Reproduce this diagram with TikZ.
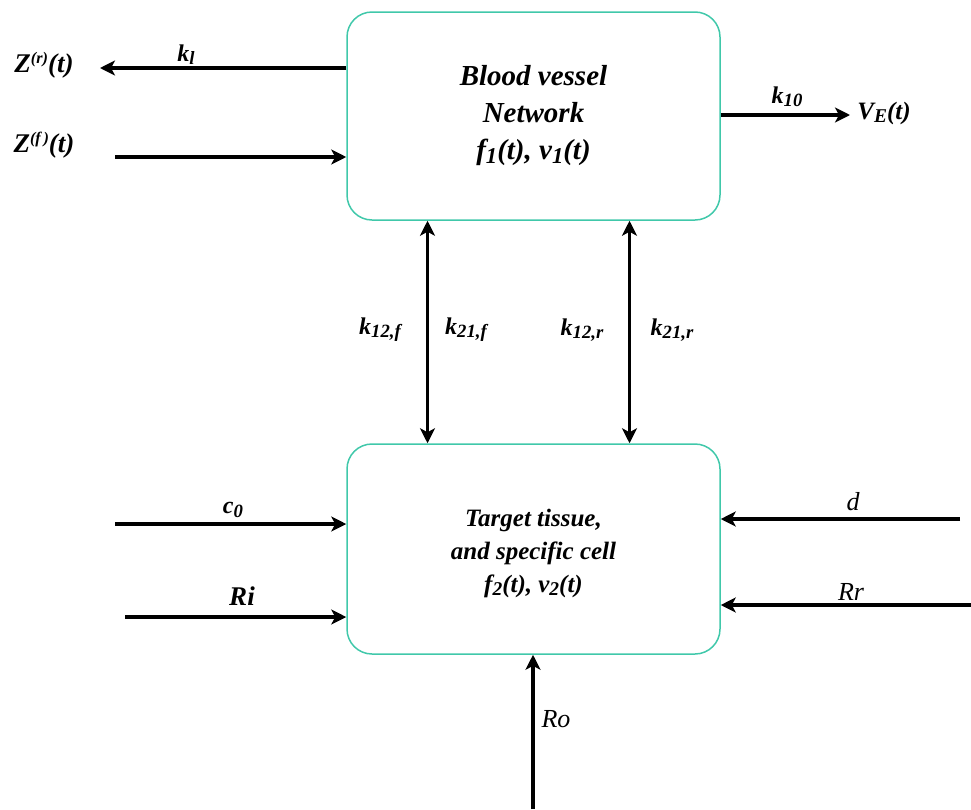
\documentclass[tikz,border=0pt]{standalone}
\usepackage{fontspec}
\usepackage{graphicx}
\setmainfont{Liberation Serif}
\usetikzlibrary{arrows.meta}
\definecolor{tealbox}{RGB}{64,200,170}
\newcommand\lowr[1]{\raisebox{-0.3ex}{\scalebox{0.78}{#1}}}
\newcommand\upr[1]{\raisebox{0.75ex}{\scalebox{0.6}{#1}}}
\tikzset{
  box/.style={draw=tealbox,line width=1.5pt,rounded corners=25pt,minimum width=373pt,minimum height=208pt,align=center,inner sep=0pt},
  arr/.style={line width=3.2pt,-{Stealth[length=15pt,width=15pt,inset=4pt]}},
  dbl/.style={line width=3.2pt,{Stealth[length=15pt,width=15pt,inset=4pt]}-{Stealth[length=15pt,width=15pt,inset=4pt]}},
  lab/.style={font=\fontsize{24}{26}\selectfont\bfseries\itshape,inner sep=0pt},
  labr/.style={font=\fontsize{26}{28}\selectfont\itshape,inner sep=0pt}
}
\begin{document}
\begin{tikzpicture}[x=1pt,y=-1pt]
\useasboundingbox (0,0) rectangle (971,809);
% boxes
\node[box,font=\fontsize{29}{37}\selectfont\bfseries\itshape] (top) at (533.5,116) {Blood vessel\\Network\\f\lowr{1}(t), v\lowr{1}(t)};
\node[box,minimum height=210pt] (bot) at (533.5,549) {};
\node[font=\fontsize{25}{33}\selectfont\bfseries\itshape,align=center,inner sep=0pt] (bottxt) at (533.5,553) {Target tissue,\\and specific cell\\f\lowr{2}(t), v\lowr{2}(t)};
% free ends
\coordinate (zr) at (100,68);
\coordinate (zf) at (115,157);
\coordinate (ve) at (850,115);
\coordinate (c0s) at (115,524);
\coordinate (ris) at (125,617);
\coordinate (ds) at (960,519);
\coordinate (rrs) at (971,605);
\coordinate (ros) at (533,809);
% connectors
\draw[arr] (top.west |- zr) -- (zr);
\draw[arr] (zf) -- (top.west |- zf);
\draw[arr] (top.east |- ve) -- (ve);
\draw[dbl] ([xshift=-106pt]top.south) -- ([xshift=-106pt]bot.north);
\draw[dbl] ([xshift=96pt]top.south) -- ([xshift=96pt]bot.north);
\draw[arr] (c0s) -- (bot.west |- c0s);
\draw[arr] (ris) -- (bot.west |- ris);
\draw[arr] (ds) -- (bot.east |- ds);
\draw[arr] (rrs) -- (bot.east |- rrs);
\draw[arr] (ros) -- (bot.south -| ros);
% labels
\node[lab,font=\fontsize{27}{28}\selectfont\bfseries\itshape] (lzr) at (44,65) {Z\upr{(r)}(t)};
\node[lab,font=\fontsize{27}{28}\selectfont\bfseries\itshape] (lzf) at (44,145) {Z\upr{(f\,)}(t)};
\node[lab] (lkl) at (186,55) {k\lowr{l}};
\node[lab] (lk10) at (787,97) {k\lowr{10}};
\node[lab,font=\fontsize{25}{26}\selectfont\bfseries\itshape] (lve) at (884,113) {V\lowr{E}(t)};
\node[lab] (lk12f) at (380,330) {k\lowr{12,f}};
\node[lab] (lk21f) at (466,330) {k\lowr{21,f}};
\node[lab] (lk12r) at (582,330) {k\lowr{12,r}};
\node[lab] (lk21r) at (672,330) {k\lowr{21,r}};
\node[lab] (lc0) at (233,510) {c\lowr{0}};
\node[lab,font=\fontsize{27}{28}\selectfont\bfseries\itshape] (lri) at (242,596) {Ri};
\node[labr] (ld) at (853,502) {d};
\node[labr] (lrr) at (851,592) {Rr};
\node[labr] (lro) at (556,719) {Ro};
\end{tikzpicture}
\end{document}
